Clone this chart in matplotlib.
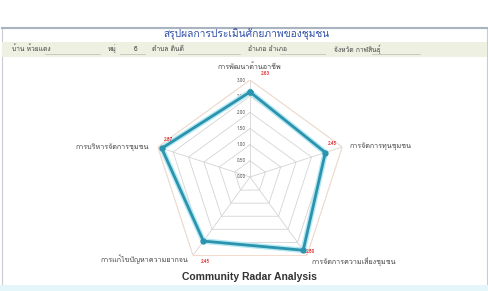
import numpy as np
import matplotlib.pyplot as plt
from matplotlib import font_manager
from matplotlib.ft2font import FT2Font
from matplotlib.patches import Rectangle
from matplotlib.lines import Line2D

# find a font with Thai glyphs, if any is installed
thai = None
for f in font_manager.fontManager.ttflist:
    try:
        if 0x0E01 in FT2Font(f.fname).get_charmap():
            thai = f.name
            break
    except Exception:
        pass
fams = ([thai] if thai else []) + ['Liberation Sans', 'DejaVu Sans']
plt.rcParams['font.family'] = fams

categories = ['การพัฒนาด้านอาชีพ', 'การจัดการทุนชุมชน', 'การจัดการความเสี่ยงชุมชน',
              'การแก้ไขปัญหาความยากจน', 'การบริหารจัดการชุมชน']
scores = [2.63, 2.45, 2.80, 2.45, 2.87]
full = [3.0, 3.0, 3.0, 3.0, 3.0]
ticks = [0.0, 0.5, 1.0, 1.5, 2.0, 2.5, 3.0]
header = [('บ้าน ห้วยแดง', 12), ('หมู่', 108), ('6', 134), ('ตำบล ดินดี', 152),
          ('อำเภอ อำเภอ', 248), ('จังหวัด กาฬสินธุ์', 334)]

W, H = 489, 291
fig = plt.figure(figsize=(W / 100, H / 100), dpi=100)
fig.patch.set_facecolor('white')

# frame and header strips
fig.add_artist(Rectangle((2 / W, 0), 485 / W, 1 - 28 / H, transform=fig.transFigure,
                         fill=False, ec='#c8ccd0', lw=0.8))
fig.add_artist(Line2D([2 / W, 487 / W], [1 - 28 / H] * 2, transform=fig.transFigure,
                      color='#aab4c0', lw=1.5))
fig.add_artist(Rectangle((2 / W, 1 - 57 / H), 485 / W, 15 / H, transform=fig.transFigure,
                         fc='#eef0e2', ec='none'))
fig.add_artist(Rectangle((0, 0), 1, 6 / H, transform=fig.transFigure,
                         fc='#e4f6fa', ec='none'))
fig.text(247 / W, 1 - 34 / H, 'สรุปผลการประเมินศักยภาพของชุมชน', ha='center', va='center',
         fontsize=7.4, color='#2f4fa8')
for txt, x in header:
    fig.text(x / W, 1 - 49 / H, txt, ha='left', va='center', fontsize=4.8, color='#444444')
for x0, x1 in [(45, 100), (120, 145), (178, 240), (280, 325), (372, 420)]:
    fig.add_artist(Line2D([x0 / W, x1 / W], [1 - 54 / H] * 2, transform=fig.transFigure,
                          color='#b8bcb0', lw=0.5))

# radar
R = 97
cx, cy = 250, 177
ax = fig.add_axes([(cx - R) / W, (H - cy - R) / H, 2 * R / W, 2 * R / H], projection='polar')
ax.set_theta_offset(np.pi / 2)
ax.set_theta_direction(-1)
ax.set_ylim(0, 3)
ax.grid(False)
ax.spines['polar'].set_visible(False)
ax.set_xticks([])
ax.set_yticks([])
ax.patch.set_alpha(0)

ang = np.linspace(0, 2 * np.pi, len(categories), endpoint=False)
closed = np.append(ang, ang[0])
for t in ticks[1:]:
    ax.plot(closed, [t] * len(closed), color='#d4d4d4', lw=0.6, zorder=1)
for a in ang:
    ax.plot([a, a], [0, 3], color='#d4d4d4', lw=0.6, zorder=1)
for t in ticks:
    ax.annotate('%.2f' % t, (0, t), xytext=(-3, 0), textcoords='offset points',
                ha='right', va='center', fontsize=3.3, color='#555555')

ax.plot(closed, np.append(full, full[0]), color='#f8dccb', lw=0.6, zorder=2)
sc = np.append(scores, scores[0])
ax.plot(closed, sc, color='#b4e8f2', lw=4, zorder=3, solid_joinstyle='round')
ax.plot(closed, sc, color='#2b93ad', lw=2, marker='o', ms=3.5, zorder=4)

cat_off = [((0, 9), 'center'), ((5, 1), 'left'), ((3, -4), 'left'),
           ((-3, -3), 'right'), ((-6, 0), 'right')]
for a, c, (off, ha) in zip(ang, categories, cat_off):
    ax.annotate(c, (a, 3), xytext=off, textcoords='offset points', ha=ha, va='center',
                fontsize=5.2, color='#444444', annotation_clip=False)

val_off = [(11, 13), (5, 6.5), (5, -1), (1.5, -15), (5, 6)]
for a, v, off in zip(ang, scores, val_off):
    ax.annotate('%.2f' % v, (a, v), xytext=off, textcoords='offset points', ha='center',
                va='center', fontsize=3.4, color='#e02020', fontweight='bold',
                annotation_clip=False)

fig.text(249 / W, 1 - 277 / H, 'Community Radar Analysis', ha='center', va='center',
         fontsize=7.5, fontweight='bold', color='#333333', family=['Liberation Sans', 'DejaVu Sans'])

fig.savefig('out.png', dpi=100)
